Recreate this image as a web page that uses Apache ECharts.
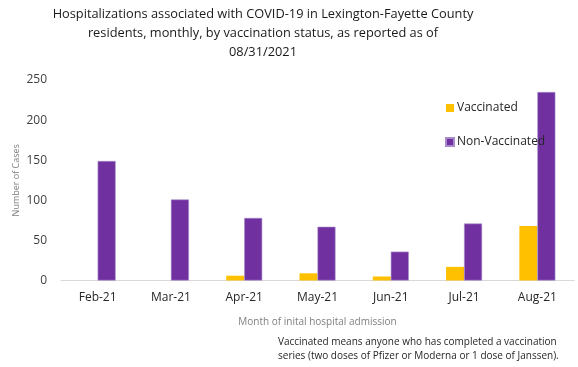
<!DOCTYPE html>
<html>
<head>
<meta charset="utf-8">
<script src="https://cdn.jsdelivr.net/npm/echarts@6/dist/echarts.min.js"></script>
<style>html,body{margin:0;padding:0;background:#fff}#c{width:578px;height:367px}</style>
</head>
<body>
<div id="c"></div>
<script>
const categories = ['Feb-21','Mar-21','Apr-21','May-21','Jun-21','Jul-21','Aug-21'];
const vaccinated = [0, 0, 6, 9, 5, 17, 68];
const nonVaccinated = [149, 101, 78, 67, 36, 71, 235];
const yTicks = {min: 0, max: 250, interval: 50};
const titleText = 'Hospitalizations associated with COVID-19 in Lexington-Fayette County\nresidents, monthly, by vaccination status, as reported as of\n08/31/2021';
const noteText = 'Vaccinated means anyone who has completed a vaccination\nseries (two doses of Pfizer or Moderna or 1 dose of Janssen).';

const font = 'Open Sans';
const chart = echarts.init(document.getElementById('c'));
chart.setOption({
  animation: false,
  textStyle: {fontFamily: font},
  legend: {
    orient: 'vertical', left: 440, top: 97, itemGap: 22,
    itemWidth: 8, itemHeight: 8, icon: 'rect',
    textStyle: {fontFamily: font, fontSize: 12, color: '#262626', padding: [0,0,0,-2]},
    data: ['Vaccinated','Non-Vaccinated']
  },
  grid: {left: 61, right: 4, top: 80, bottom: 86.5, containLabel: false},
  xAxis: {
    type: 'category', data: categories,
    axisLine: {lineStyle: {color: '#d9d9d9'}},
    axisTick: {show: false},
    axisLabel: {fontFamily: font, fontSize: 12, color: '#262626', margin: 11},
    name: 'Month of inital hospital admission', nameLocation: 'middle', nameGap: 37,
    nameTextStyle: {fontFamily: font, fontSize: 10, color: '#7f7f7f'}
  },
  yAxis: {
    type: 'value', min: yTicks.min, max: yTicks.max, interval: yTicks.interval,
    splitLine: {show: false},
    axisLine: {show: false}, axisTick: {show: false},
    axisLabel: {fontFamily: font, fontSize: 12, color: '#404040', margin: 14},
    name: 'Number of Cases', nameLocation: 'middle', nameGap: 40, nameRotate: 90,
    nameMoveOverlap: false,
    nameTextStyle: {fontFamily: font, fontSize: 9, color: '#7f7f7f'}
  },
  series: [
    {name: 'Vaccinated', type: 'bar', data: vaccinated, barWidth: 18, barGap: '0%',
     itemStyle: {color: '#FFC000'}},
    {name: 'Non-Vaccinated', type: 'bar', data: nonVaccinated, barWidth: 18,
     itemStyle: {color: '#7030A0', borderColor: '#a58bc9', borderWidth: 0.6}}
  ],
  graphic: [
    {type: 'text', x: 263, y: 5,
     style: {text: titleText, font: '12.8px "' + font + '"', fill: '#1a1a1a', lineHeight: 19, align: 'center'}},
    {type: 'text', left: 278, top: 335,
     style: {text: noteText, font: '10px "' + font + '"', fill: '#262626', lineHeight: 14}}
  ]
});
</script>
</body>
</html>
